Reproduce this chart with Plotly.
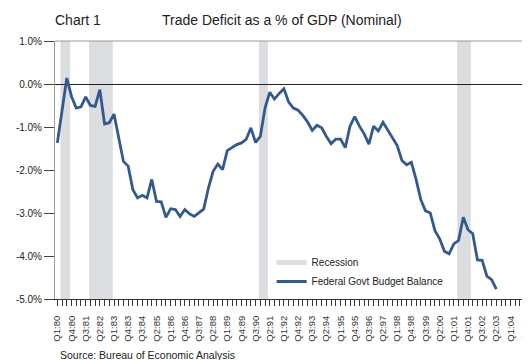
import plotly.graph_objects as go

# ---- data ----
years = ["80", "81", "82", "83", "84", "85", "86", "87", "88", "89", "90", "91",
         "92", "93", "94", "95", "96", "97", "98", "99", "00", "01", "02", "03", "04"]
quarters = [f"Q{q}:{y}" for y in years for q in (1, 2, 3, 4)]

trade_balance = [
    -1.37, -0.60, 0.14, -0.29, -0.56, -0.53, -0.30, -0.50, -0.52, -0.13,
    -0.93, -0.90, -0.70, -1.25, -1.80, -1.91, -2.46, -2.65, -2.59, -2.65,
    -2.22, -2.73, -2.74, -3.10, -2.90, -2.92, -3.08, -2.92, -3.02, -3.08,
    -3.00, -2.91, -2.42, -2.03, -1.86, -1.99, -1.55, -1.47, -1.41, -1.37,
    -1.29, -1.02, -1.36, -1.22, -0.56, -0.19, -0.35, -0.22, -0.11, -0.42,
    -0.56, -0.61, -0.73, -0.88, -1.08, -0.96, -1.02, -1.22, -1.39, -1.28,
    -1.28, -1.48, -0.98, -0.76, -0.98, -1.16, -1.40, -0.98, -1.09, -0.89,
    -1.06, -1.26, -1.43, -1.78, -1.88, -1.82, -2.22, -2.69, -2.95, -3.00,
    -3.41, -3.60, -3.89, -3.95, -3.72, -3.64, -3.10, -3.39, -3.48, -4.09,
    -4.10, -4.47, -4.55, -4.77,
]

# recession periods, in quarter-index units along the category axis
recession_start = [0.65, 6.7, 42.7, 84.7]
recession_end = [2.7, 11.75, 44.6, 87.6]

y_ticks = [1, 0, -1, -2, -3, -4, -5]
y_tick_labels = ["1.0%", "0.0%", "-1.0%", "-2.0%", "-3.0%", "-4.0%", "-5.0%"]

LINE = "#335a8e"
BAND = "#dcdde0"
FONT = "Liberation Sans, Arial, Helvetica, sans-serif"

idx = list(range(len(quarters)))
ticktext = [q if i % 3 == 0 else "" for i, q in enumerate(quarters)]

fig = go.Figure()

# legend entry for recession bands
fig.add_trace(go.Scatter(
    x=[None], y=[None], mode="lines", name="Recession",
    line=dict(color=BAND, width=5), hoverinfo="skip",
))
fig.add_trace(go.Scatter(
    x=idx[:len(trade_balance)], y=trade_balance, mode="lines",
    name="Federal Govt Budget Balance",
    line=dict(color=LINE, width=2.8),
))

for s, e in zip(recession_start, recession_end):
    fig.add_shape(type="rect", xref="x", yref="paper", x0=s, x1=e, y0=0, y1=1,
                  fillcolor=BAND, line=dict(width=0), layer="below")

# top border
fig.add_shape(type="line", xref="paper", yref="paper", x0=0, x1=1, y0=1, y1=1,
              line=dict(color="#9a9a9a", width=1), layer="below")

L, R, T, B = 41.5, 8, 33, 69
W, H = 530, 360
pw = W - L - R
ph = H - T - B

def px_x(px):
    return (px - L) / pw

def px_y(py):
    return (H - B - py) / ph

fig.add_annotation(text="Chart 1", xref="paper", yref="paper",
                   x=px_x(39), y=px_y(12), xanchor="left", yanchor="middle",
                   showarrow=False, font=dict(size=14, color="#222", family=FONT))
fig.add_annotation(text="Trade Deficit as a % of GDP (Nominal)", xref="paper", yref="paper",
                   x=px_x(273), y=px_y(12), xanchor="center", yanchor="middle",
                   showarrow=False, font=dict(size=14, color="#222", family=FONT))
fig.add_annotation(text="Source: Bureau of Economic Analysis", xref="paper", yref="paper",
                   x=px_x(45), y=px_y(347), xanchor="left", yanchor="middle",
                   showarrow=False, font=dict(size=10.5, color="#222", family=FONT))

fig.update_layout(
    width=W, height=H,
    margin=dict(l=L, r=R, t=T, b=B, pad=0),
    paper_bgcolor="white", plot_bgcolor="white",
    font=dict(family=FONT, color="#222", size=10),
    showlegend=True,
    legend=dict(x=px_x(262), y=px_y(240), xanchor="left", yanchor="top",
                bgcolor="rgba(0,0,0,0)", borderwidth=0, tracegroupgap=0,
                font=dict(size=10, color="#222", family=FONT), itemwidth=30),
    hovermode=False,
)

fig.update_xaxes(
    range=[-0.5, 99.5], tickmode="array", tickvals=idx, ticktext=ticktext,
    tickangle=-90, ticks="outside", ticklen=6, tickcolor="#333", tickwidth=1,
    ticklabelstandoff=6,
    showline=True, linecolor="#333", linewidth=1, mirror=False,
    showgrid=False, zeroline=False,
    tickfont=dict(size=9.5, color="#333", family=FONT),
)
fig.update_yaxes(
    range=[-5, 1], tickmode="array", tickvals=y_ticks, ticktext=y_tick_labels,
    ticks="outside", ticklen=10, tickcolor="#444", tickwidth=1,
    showline=True, linecolor="#9a9a9a", linewidth=1, mirror=True,
    showgrid=False, zeroline=True, zerolinecolor="#222", zerolinewidth=1,
    tickfont=dict(size=10, color="#222", family=FONT),
)

fig.write_html("out.html")
